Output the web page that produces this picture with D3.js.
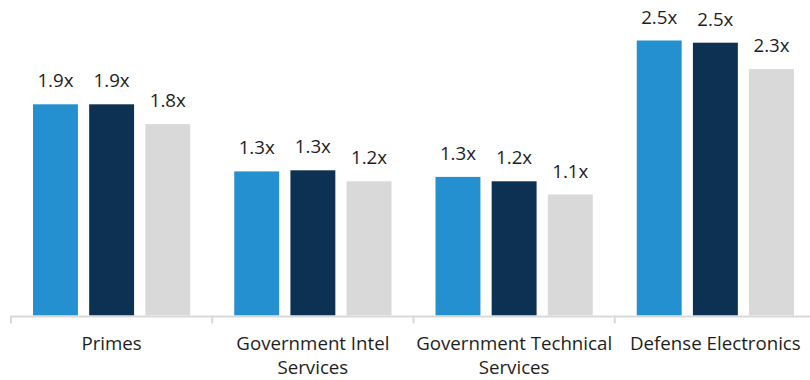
<!DOCTYPE html>
<html>
<head>
<meta charset="utf-8">
<script src="https://cdn.jsdelivr.net/npm/d3@7"></script>
<style>
  body { margin: 0; background: #fff; }
  svg { display: block; font-family: "Open Sans", "Noto Sans", sans-serif; }
</style>
</head>
<body>
<div id="chart"></div>
<script>
// data
const categories = ["Primes", "Government Intel Services", "Government Technical Services", "Defense Electronics"];
const seriesNames = ["s1", "s2", "s3"];
const series1 = [1.92, 1.31, 1.26, 2.50];
const series2 = [1.92, 1.32, 1.22, 2.48];
const series3 = [1.74, 1.22, 1.10, 2.24];
const labels1 = ["1.9x", "1.3x", "1.3x", "2.5x"];
const labels2 = ["1.9x", "1.3x", "1.2x", "2.5x"];
const labels3 = ["1.8x", "1.2x", "1.1x", "2.3x"];

const width = 810, height = 380;
const baseline = 315.5;
const fontSize = "18.7px";

const svg = d3.select("#chart")
    .append("svg")
    .attr("width", width)
    .attr("height", height);

// scales
const x = d3.scaleBand()
    .domain(categories)
    .range([11, 816])
    .paddingInner(0)
    .paddingOuter(0);

const xInner = d3.scaleBand()
    .domain(seriesNames)
    .range([22, x.bandwidth() - 22])
    .paddingInner(0.2);

const y = d3.scaleLinear()
    .domain([0, 2.5])
    .range([baseline, baseline - 275]);

const color = d3.scaleOrdinal()
    .domain(seriesNames)
    .range(["#2490CF", "#0D3153", "#D9D9D9"]);

const rows = categories.map((c, i) => ({
    category: c,
    values: [
        { key: "s1", value: series1[i], label: labels1[i] },
        { key: "s2", value: series2[i], label: labels2[i] },
        { key: "s3", value: series3[i], label: labels3[i] }
    ]
}));

// bars
const groups = svg.selectAll("g.group")
    .data(rows)
    .join("g")
    .attr("class", "group")
    .attr("transform", d => `translate(${x(d.category)},0)`);

groups.selectAll("rect")
    .data(d => d.values)
    .join("rect")
    .attr("x", d => xInner(d.key))
    .attr("width", xInner.bandwidth())
    .attr("y", d => y(d.value))
    .attr("height", d => baseline - y(d.value))
    .attr("fill", d => color(d.key));

// value labels
groups.selectAll("text.val")
    .data(d => d.values)
    .join("text")
    .attr("class", "val")
    .attr("x", d => xInner(d.key) + xInner.bandwidth() / 2)
    .attr("y", d => y(d.value) - 17)
    .attr("text-anchor", "middle")
    .style("font-size", fontSize)
    .style("fill", "#1e1e1e")
    .text(d => d.label);

// x axis: line plus ticks at band boundaries
const axis = svg.append("g");
axis.append("line")
    .attr("x1", x.range()[0])
    .attr("x2", width)
    .attr("y1", baseline + 1)
    .attr("y2", baseline + 1)
    .style("stroke", "#d9d9d9")
    .style("stroke-width", 2);

const boundaries = categories.map(c => x(c)).concat([x.range()[1]]);
axis.selectAll("line.tick")
    .data(boundaries)
    .join("line")
    .attr("class", "tick")
    .attr("x1", d => d)
    .attr("x2", d => d)
    .attr("y1", baseline)
    .attr("y2", baseline + 8)
    .style("stroke", "#d9d9d9")
    .style("stroke-width", 2);

// category labels, wrapped to the band width
const catLabels = axis.selectAll("text.cat")
    .data(categories)
    .join("text")
    .attr("class", "cat")
    .attr("x", d => x(d) + x.bandwidth() / 2)
    .attr("y", baseline + 34.5)
    .attr("text-anchor", "middle")
    .style("font-size", fontSize)
    .style("fill", "#1e1e1e");

catLabels.each(function(d) {
    const text = d3.select(this);
    const words = d.split(" ");
    const maxW = x.bandwidth() - 2;
    let line = [];
    let tspan = text.append("tspan").attr("x", x(d) + x.bandwidth() / 2).attr("dy", 0);
    words.forEach(w => {
        line.push(w);
        tspan.text(line.join(" "));
        if (tspan.node().getComputedTextLength() > maxW && line.length > 1) {
            line.pop();
            tspan.text(line.join(" "));
            line = [w];
            tspan = text.append("tspan")
                .attr("x", x(d) + x.bandwidth() / 2)
                .attr("dy", 24)
                .text(w);
        }
    });
});
</script>
</body>
</html>
